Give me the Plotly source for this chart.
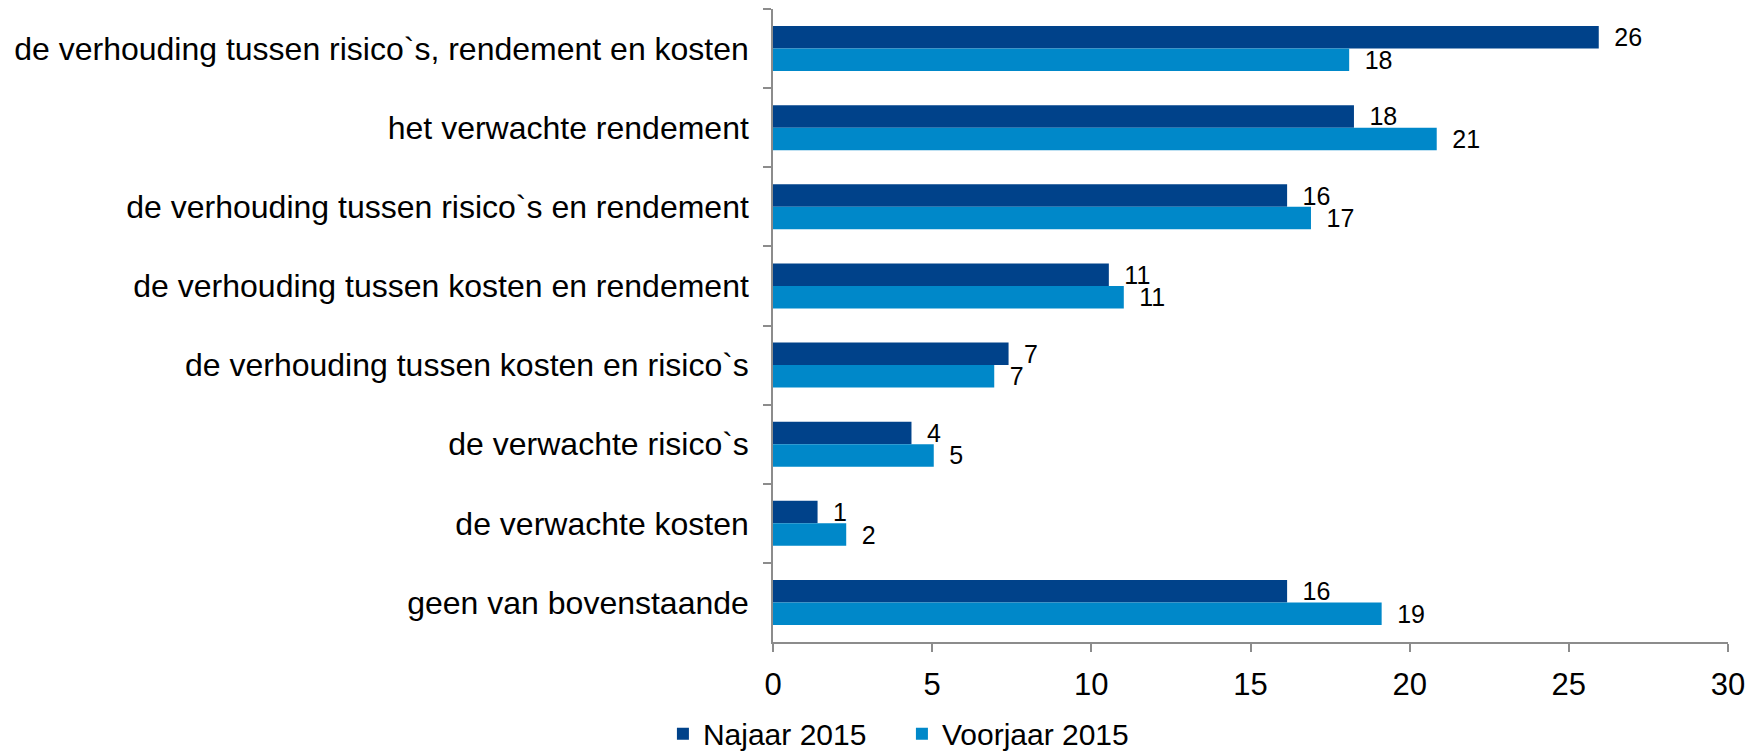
import plotly.graph_objects as go

categories = [
    "de verhouding tussen risico`s, rendement en kosten",
    "het verwachte rendement",
    "de verhouding tussen risico`s en rendement",
    "de verhouding tussen kosten en rendement",
    "de verhouding tussen kosten en risico`s",
    "de verwachte risico`s",
    "de verwachte kosten",
    "geen van bovenstaande",
]
najaar_2015 = [25.94, 18.25, 16.15, 10.55, 7.4, 4.35, 1.4, 16.15]
voorjaar_2015 = [18.1, 20.85, 16.9, 11.02, 6.95, 5.05, 2.3, 19.12]
x_ticks = [0, 5, 10, 15, 20, 25, 30]

FONT = "Liberation Sans, Arial, sans-serif"
AXIS_COLOR = "#8c8c8c"

fig = go.Figure()
fig.add_trace(go.Bar(
    name="Najaar 2015", y=categories, x=najaar_2015, orientation="h",
    marker=dict(color="#00428A", line=dict(width=0)),
    texttemplate="\u2002%{x:.0f}", textposition="outside", cliponaxis=False,
    constraintext="none", textfont=dict(size=25, color="#000000", family=FONT),
))
fig.add_trace(go.Bar(
    name="Voorjaar 2015", y=categories, x=voorjaar_2015, orientation="h",
    marker=dict(color="#0088C9", line=dict(width=0)),
    texttemplate="\u2002%{x:.0f}", textposition="outside", cliponaxis=False,
    constraintext="none", textfont=dict(size=25, color="#000000", family=FONT),
))

fig.update_layout(
    width=1749, height=751,
    margin=dict(l=773, r=21, t=9, b=109, autoexpand=False),
    paper_bgcolor="white", plot_bgcolor="white",
    barmode="group", bargap=0.43, bargroupgap=0,
    font=dict(family=FONT, size=30, color="#000000"),
    showlegend=True,
    legend=dict(
        orientation="h", xref="paper", yref="paper",
        x=0.135, xanchor="center", y=-0.145, yanchor="middle",
        font=dict(size=30, family=FONT), itemwidth=30, traceorder="normal",
        entrywidth=194, entrywidthmode="pixels",
    ),
    xaxis=dict(
        range=[0, 30], tickvals=x_ticks, showgrid=False, zeroline=False,
        showline=True, linecolor=AXIS_COLOR, linewidth=1.5, automargin=False,
        ticks="outside", ticklen=8, tickcolor=AXIS_COLOR, tickwidth=1.5,
        tickfont=dict(size=31, family=FONT), ticklabelstandoff=6,
    ),
    yaxis=dict(
        autorange="reversed", showgrid=False, zeroline=False, automargin=False,
        showline=True, linecolor=AXIS_COLOR, linewidth=1.5,
        ticks="outside", ticklen=8, tickcolor=AXIS_COLOR, tickwidth=1.5,
        tickson="boundaries", tickfont=dict(size=32, family=FONT),
        ticklabelstandoff=16,
    ),
)

fig.write_html(
    "out.html",
    config={"displayModeBar": False},
    post_script="document.body.style.margin='0';document.body.style.overflow='hidden';",
)
